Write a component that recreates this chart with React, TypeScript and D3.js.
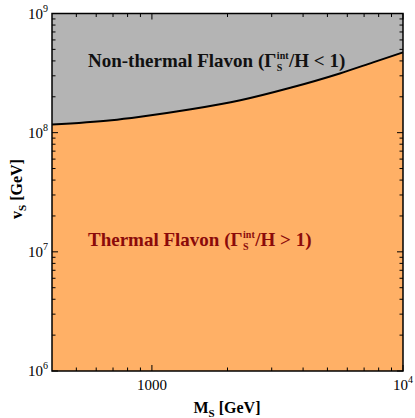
import React, { useRef, useEffect } from "react";
import * as d3 from "d3";

// boundary Gamma_S^int / H = 1
const massPoints = [400, 690, 900, 1430, 2250, 3560, 5600, 7600, 10000];
const vevPoints = [1.17e8, 1.27e8, 1.36e8, 1.57e8, 1.87e8, 2.38e8, 3.14e8, 3.89e8, 4.72e8];

const xMajorTicks = [1000, 10000];
const xMinorTicks = [500, 600, 700, 800, 900, 2000, 3000, 4000, 5000, 6000, 7000, 8000, 9000];
const xTickLabels = [
  { value: 1000, base: "1000", exp: "" },
  { value: 10000, base: "10", exp: "4" },
];

const yMajorTicks = [1e6, 1e7, 1e8, 1e9];
const yMinorTicks = [2, 3, 4, 5, 6, 7, 8, 9].flatMap((m) => [m * 1e6, m * 1e7, m * 1e8]);
const yTickLabels = [
  { value: 1e6, base: "10", exp: "6" },
  { value: 1e7, base: "10", exp: "7" },
  { value: 1e8, base: "10", exp: "8" },
  { value: 1e9, base: "10", exp: "9" },
];

const App = () => {
  const container = useRef(null);

  const width = 415;
  const height = 418;
  const left = 52;
  const right = 403;
  const top = 13.5;
  const bottom = 371;

  useEffect(() => {
    const svg = d3.select(container.current);
    svg.selectAll("*").remove();

    const xScale = d3.scaleLog().domain([400, 10000]).range([left, right]);
    const yScale = d3.scaleLog().domain([1e6, 1e9]).range([bottom, top]);

    const font = "'Liberation Serif', 'Times New Roman', serif";

    // grey background = non-thermal region
    svg
      .append("rect")
      .attr("x", left)
      .attr("y", top)
      .attr("width", right - left)
      .attr("height", bottom - top)
      .attr("fill", "#b4b4b4");

    const data = massPoints.map((m, i) => ({ m, v: vevPoints[i] }));

    // orange = thermal region below the curve
    const area = d3
      .area()
      .x((d) => xScale(d.m))
      .y0(yScale(1e6))
      .y1((d) => yScale(d.v))
      .curve(d3.curveMonotoneX);

    svg.append("path").datum(data).attr("d", area).attr("fill", "#ffb066");

    const line = d3
      .line()
      .x((d) => xScale(d.m))
      .y((d) => yScale(d.v))
      .curve(d3.curveMonotoneX);

    svg
      .append("path")
      .datum(data)
      .attr("d", line)
      .attr("fill", "none")
      .attr("stroke", "#000")
      .attr("stroke-width", 2);

    // ticks (inward, all four sides)
    const ticks = svg.append("g").attr("stroke", "#000").attr("stroke-width", 1);
    const addX = (vals, len) => {
      vals.forEach((v) => {
        const x = xScale(v);
        ticks.append("line").attr("x1", x).attr("x2", x).attr("y1", bottom).attr("y2", bottom - len);
        ticks.append("line").attr("x1", x).attr("x2", x).attr("y1", top).attr("y2", top + len);
      });
    };
    const addY = (vals, len) => {
      vals.forEach((v) => {
        const y = yScale(v);
        ticks.append("line").attr("x1", left).attr("x2", left + len).attr("y1", y).attr("y2", y);
        ticks.append("line").attr("x1", right).attr("x2", right - len).attr("y1", y).attr("y2", y);
      });
    };
    addX(xMajorTicks, 6);
    addX(xMinorTicks, 3.5);
    addY(yMajorTicks, 6);
    addY(yMinorTicks, 3.5);

    // frame
    svg
      .append("rect")
      .attr("x", left)
      .attr("y", top)
      .attr("width", right - left)
      .attr("height", bottom - top)
      .attr("fill", "none")
      .attr("stroke", "#000")
      .attr("stroke-width", 1.5);

    // tick labels
    xTickLabels.forEach((d) => {
      const t = svg
        .append("text")
        .attr("x", xScale(d.value))
        .attr("y", bottom + 19)
        .attr("text-anchor", "middle")
        .attr("font-family", font)
        .attr("font-size", 15)
        .text(d.base);
      if (d.exp) t.append("tspan").attr("dy", -7).attr("font-size", 10).text(d.exp);
    });

    yTickLabels.forEach((d) => {
      const t = svg
        .append("text")
        .attr("x", left - 4)
        .attr("y", yScale(d.value) + 5)
        .attr("text-anchor", "end")
        .attr("font-family", font)
        .attr("font-size", 15)
        .text(d.base);
      t.append("tspan").attr("dy", -7).attr("font-size", 10).text(d.exp);
    });

    // axis titles
    const xt = svg
      .append("text")
      .attr("x", 227)
      .attr("y", 413)
      .attr("text-anchor", "middle")
      .attr("font-family", font)
      .attr("font-weight", "bold")
      .attr("font-size", 16)
      .text("M");
    xt.append("tspan").attr("dy", 4).attr("font-size", 11).text("S");
    xt.append("tspan").attr("dy", -4).text(" [GeV]");

    const yt = svg
      .append("text")
      .attr("transform", `translate(22, 189) rotate(-90)`)
      .attr("text-anchor", "middle")
      .attr("font-family", font)
      .attr("font-weight", "bold")
      .attr("font-size", 16)
      .text("v");
    yt.append("tspan").attr("dy", 4).attr("font-size", 11).text("S");
    yt.append("tspan").attr("dy", -4).text(" [GeV]");

    // region labels: "pre (Γ" + stacked int/S + "/H rel 1)"
    const addLabel = (x, y, pre, rel, color) => {
      const g = svg
        .append("g")
        .attr("font-family", font)
        .attr("font-weight", "bold")
        .attr("fill", color);
      const head = g
        .append("text")
        .attr("x", x)
        .attr("y", y)
        .attr("font-size", 19)
        .text(pre + " (Γ");
      const x1 = x + head.node().getComputedTextLength() + 0.5;
      const sup = g
        .append("text")
        .attr("x", x1)
        .attr("y", y - 8)
        .attr("font-size", 10)
        .text("int");
      g.append("text")
        .attr("x", x1)
        .attr("y", y + 4.5)
        .attr("font-size", 10)
        .text("S");
      const x2 = x1 + sup.node().getComputedTextLength() + 0.5;
      g.append("text")
        .attr("x", x2)
        .attr("y", y)
        .attr("font-size", 19)
        .text("/H " + rel + " 1)");
    };
    addLabel(88, 66.5, "Non-thermal Flavon", "<", "#111");
    addLabel(88, 245.5, "Thermal Flavon", ">", "#8b0a0a");
  }, []);

  return (
    <div style={{ width: width, height: height }}>
      <svg
        ref={container}
        width={width}
        height={height}
        style={{ position: "absolute", left: 0, top: 0 }}
      />
    </div>
  );
};

export default App;
